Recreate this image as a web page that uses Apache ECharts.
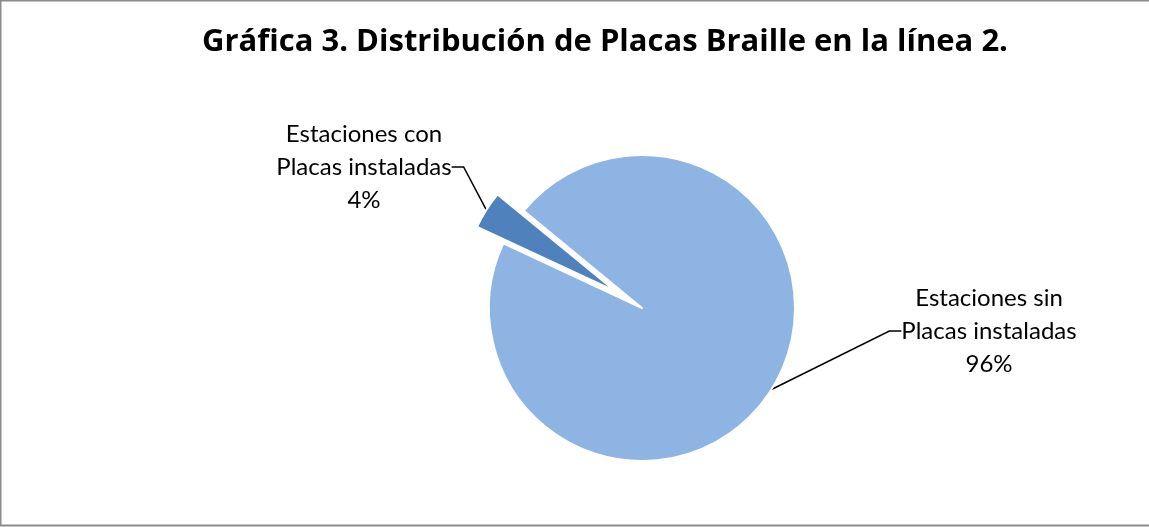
<!DOCTYPE html>
<html>
<head>
<meta charset="utf-8">
<script src="https://cdn.jsdelivr.net/npm/echarts@6/dist/echarts.min.js"></script>
<style>
    html, body { margin: 0; padding: 0; background: #fff; }
    #chart { width: 1149px; height: 527px; }
</style>
</head>
<body>
<div id="chart"></div>
<script>
'use strict';
var titulo = 'Gráfica 3. Distribución de Placas Braille en la línea 2.';
var categorias = ['Estaciones con\nPlacas instaladas', 'Estaciones sin\nPlacas instaladas'];
var valores = [4, 96];
var colores = ['#4F81BD', '#8EB4E3'];

var fuente = 'Lato';
var centro = [642, 308];
var radio = 153;
var anguloInicio = 155;
var separacion = 31;   // slice pulled out of the pie
// label centres, in px of the chart box
var posEtiquetas = [[364, 167], [989, 331]];

// direction of the pulled-out slice (middle of the first slice)
var total = valores.reduce(function (a, b) { return a + b; }, 0);
var medio = (anguloInicio - 360 * valores[0] / total / 2) * Math.PI / 180;
var centroSeparado = [
    centro[0] + Math.cos(medio) * separacion,
    centro[1] - Math.sin(medio) * separacion
];

// one series per slice, the other slice left transparent
function datosPara(idx) {
    return categorias.map(function (nombre, i) {
        var visible = i === idx;
        return {
            name: nombre,
            value: valores[i],
            itemStyle: visible ? { color: colores[i] } : { color: 'transparent', borderWidth: 0 },
            label: { show: visible },
            labelLine: { show: visible }
        };
    });
}

function serie(idx, c) {
    return {
        type: 'pie',
        center: c,
        radius: radio,
        startAngle: anguloInicio,
        clockwise: true,
        silent: true,
        avoidLabelOverlap: false,
        itemStyle: {
            borderColor: '#ffffff',
            borderWidth: 2
        },
        label: {
            formatter: '{b}\n{d}%',
            fontFamily: fuente,
            fontSize: 24,
            lineHeight: 33,
            color: '#000000',
            align: 'center'
        },
        labelLine: {
            length: 20,
            length2: 12,
            lineStyle: { color: '#000000', width: 1.5 }
        },
        labelLayout: function (params) {
            var p = posEtiquetas[params.dataIndex];
            return {
                x: p[0],
                y: p[1],
                align: 'center',
                verticalAlign: 'middle'
            };
        },
        data: datosPara(idx)
    };
}

var myChart = echarts.init(document.getElementById('chart'));
var option = {
    backgroundColor: '#ffffff',
    animation: false,
    title: {
        text: titulo,
        left: 600,
        top: 22,
        textAlign: 'center',
        textStyle: {
            fontFamily: 'Open Sans',
            fontSize: 31,
            fontWeight: 'bold',
            color: '#000000'
        }
    },
    graphic: [{
        type: 'rect',
        silent: true,
        shape: { x: 0.5, y: 0.5, width: 1160, height: 525 },
        style: { fill: 'none', stroke: '#8c8c8c', lineWidth: 2 }
    }],
    series: [serie(1, centro), serie(0, centroSeparado)]
};
myChart.setOption(option);
</script>
</body>
</html>
